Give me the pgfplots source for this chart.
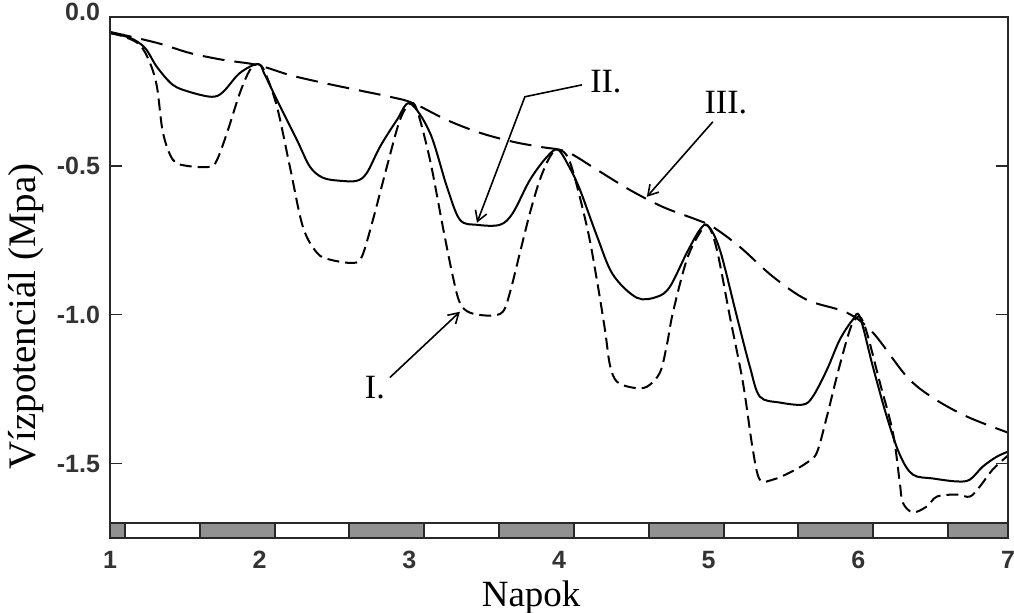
\documentclass[border=0pt]{standalone}
\usepackage{fontspec}
\setmainfont{Liberation Serif}
\newfontfamily\ticksans{Liberation Sans}
\usepackage{pgfplots}
\pgfplotsset{compat=1.18}
\usetikzlibrary{arrows.meta}
\definecolor{stripgray}{RGB}{145,145,145}
\definecolor{framegray}{RGB}{40,40,40}

\begin{document}
\begin{tikzpicture}
\begin{axis}[
  scale only axis, width=449pt, height=260.5pt,
  xmin=1, xmax=7, ymin=-1.75, ymax=0,
  xtick={1,2,3,4,5,6,7}, xticklabels={1,2,3,4,5,6,7},
  ytick={0,-0.5,-1,-1.5},
  yticklabels={\raisebox{5pt}{0.0},-0.5,-1.0,-1.5},
  xtick style={draw=none},
  ytick style={line width=0.7pt, framegray},
  major tick length=6pt, tick align=inside,
  axis line style={line width=1pt, framegray},
  tick label style={font=\ticksans\bfseries\fontsize{12.5}{14}\selectfont, text=black!80},
  xticklabel style={yshift=-3pt},
  yticklabel style={xshift=-1.5pt},
  xlabel={Napok}, ylabel={Vízpotenciál (Mpa)},
  xlabel style={at={(axis description cs:0.469,-0.115)}, anchor=center, font=\fontsize{18.5}{22}\selectfont},
  ylabel style={at={(axis description cs:-0.0935,0.425)}, anchor=center, font=\fontsize{19.5}{23}\selectfont},
  axis on top,
]
% long dashes: III.
\addplot[black, line width=1pt, dash pattern=on 11pt off 5pt, smooth, tension=0.55] coordinates {
(1.0,-0.050)(1.314,-0.087)(1.534,-0.121)(1.755,-0.144)(1.982,-0.161)(2.202,-0.195)
(2.423,-0.221)(2.65,-0.245)(2.87,-0.268)(3.024,-0.289)(3.251,-0.346)(3.472,-0.389)
(3.692,-0.419)(3.872,-0.436)(4.053,-0.453)(4.253,-0.513)(4.474,-0.581)(4.694,-0.638)
(4.921,-0.681)(5.028,-0.705)(5.208,-0.772)(5.429,-0.872)(5.656,-0.950)(5.923,-0.993)
(6.097,-1.060)(6.324,-1.208)(6.498,-1.279)(6.725,-1.342)(7.0,-1.396)};
% solid: II.
\addplot[black, line width=1pt, smooth, tension=0.55] coordinates {
(1.0,-0.054)(1.134,-0.07)(1.234,-0.104)(1.314,-0.168)(1.42,-0.228)(1.534,-0.252)(1.68,-0.268)
(1.755,-0.252)(1.868,-0.188)(1.99,-0.158)
(2.035,-0.195)(2.116,-0.279)(2.249,-0.413)(2.336,-0.503)(2.423,-0.540)(2.536,-0.550)(2.65,-0.550)
(2.717,-0.523)(2.804,-0.436)(2.917,-0.346)(3.004,-0.290)
(3.138,-0.389)(3.251,-0.570)(3.338,-0.681)(3.452,-0.698)(3.605,-0.698)(3.692,-0.658)(3.806,-0.547)
(3.919,-0.470)(3.993,-0.446)
(4.07,-0.505)(4.14,-0.580)(4.253,-0.735)(4.36,-0.865)(4.52,-0.943)(4.654,-0.940)(4.741,-0.906)(4.854,-0.792)
(4.941,-0.715)(4.995,-0.701)
(5.075,-0.782)(5.189,-1.007)(5.275,-1.174)(5.342,-1.275)(5.476,-1.295)(5.629,-1.302)(5.696,-1.275)
(5.79,-1.185)(5.876,-1.084)(5.963,-1.017)(6.01,-1.007)
(6.097,-1.174)(6.19,-1.342)(6.277,-1.470)(6.364,-1.537)(6.498,-1.550)(6.658,-1.560)(6.745,-1.554)
(6.832,-1.510)(6.925,-1.477)(7.0,-1.460)};
% short dashes: I.
\addplot[black, line width=1pt, dash pattern=on 6pt off 3pt, smooth, tension=0.55] coordinates {
(1.0,-0.054)(1.1,-0.067)(1.2,-0.094)(1.267,-0.154)(1.314,-0.235)(1.354,-0.389)(1.421,-0.480)
(1.514,-0.500)(1.668,-0.503)(1.715,-0.480)(1.782,-0.389)(1.868,-0.255)(1.935,-0.178)(1.99,-0.158)
(2.035,-0.185)(2.116,-0.302)(2.202,-0.503)(2.289,-0.705)(2.383,-0.792)(2.47,-0.815)(2.623,-0.826)
(2.683,-0.805)(2.757,-0.681)(2.85,-0.503)(2.937,-0.346)(3.004,-0.292)
(3.051,-0.312)(3.138,-0.480)(3.224,-0.705)(3.291,-0.872)(3.338,-0.960)(3.405,-0.993)(3.538,-1.003)
(3.625,-0.990)(3.672,-0.926)(3.739,-0.792)(3.806,-0.658)(3.872,-0.547)(3.939,-0.470)(3.993,-0.446)
(4.073,-0.487)(4.187,-0.705)(4.253,-0.883)(4.307,-1.050)(4.34,-1.168)(4.387,-1.225)(4.494,-1.245)
(4.587,-1.242)(4.674,-1.195)(4.721,-1.101)(4.761,-0.993)(4.854,-0.815)(4.941,-0.725)(4.995,-0.701)
(5.055,-0.782)(5.142,-1.007)(5.229,-1.228)(5.295,-1.453)(5.342,-1.554)(5.429,-1.554)(5.543,-1.530)
(5.656,-1.497)(5.723,-1.463)(5.79,-1.342)(5.856,-1.208)(5.923,-1.084)(5.963,-1.027)(6.01,-1.007)
(6.057,-1.060)(6.144,-1.228)(6.231,-1.396)(6.277,-1.564)(6.297,-1.631)(6.364,-1.664)(6.458,-1.644)
(6.525,-1.611)(6.658,-1.604)(6.745,-1.611)(6.812,-1.577)(6.898,-1.520)(7.0,-1.473)};
% day/night strip
\addplot[draw=framegray, line width=1pt, fill=white] coordinates {(1,-1.75)(7,-1.75)(7,-1.70)(1,-1.70)} -- cycle;
\addplot[draw=framegray, line width=1pt, fill=stripgray] coordinates {(1,-1.75)(1.1,-1.75)(1.1,-1.70)(1,-1.70)} -- cycle;
\addplot[draw=framegray, line width=1pt, fill=stripgray] coordinates {(1.6,-1.75)(2.1,-1.75)(2.1,-1.70)(1.6,-1.70)} -- cycle;
\addplot[draw=framegray, line width=1pt, fill=stripgray] coordinates {(2.6,-1.75)(3.1,-1.75)(3.1,-1.70)(2.6,-1.70)} -- cycle;
\addplot[draw=framegray, line width=1pt, fill=stripgray] coordinates {(3.6,-1.75)(4.1,-1.75)(4.1,-1.70)(3.6,-1.70)} -- cycle;
\addplot[draw=framegray, line width=1pt, fill=stripgray] coordinates {(4.6,-1.75)(5.1,-1.75)(5.1,-1.70)(4.6,-1.70)} -- cycle;
\addplot[draw=framegray, line width=1pt, fill=stripgray] coordinates {(5.6,-1.75)(6.1,-1.75)(6.1,-1.70)(5.6,-1.70)} -- cycle;
\addplot[draw=framegray, line width=1pt, fill=stripgray] coordinates {(6.6,-1.75)(7,-1.75)(7,-1.70)(6.6,-1.70)} -- cycle;
% annotations
\draw[line width=0.8pt, -{Straight Barb[length=5pt,width=6pt]}] (axis cs:2.87,-1.211) -- (axis cs:3.338,-0.990);
\draw[line width=0.8pt, -{Straight Barb[length=5pt,width=6pt]}] (axis cs:4.153,-0.228) -- (axis cs:3.772,-0.268) -- (axis cs:3.452,-0.691);
\draw[line width=0.8pt, -{Straight Barb[length=5pt,width=6pt]}] (axis cs:5.028,-0.352) -- (axis cs:4.587,-0.604);
\node[font=\fontsize{17}{20}\selectfont] at (axis cs:2.770,-1.245) {I.};
\node[font=\fontsize{17}{20}\selectfont] at (axis cs:4.313,-0.218) {II.};
\node[font=\fontsize{17}{20}\selectfont] at (axis cs:5.115,-0.289) {III.};
\end{axis}
\pgfresetboundingbox
\useasboundingbox (-55pt,-37pt) rectangle (452pt,269pt);
\end{tikzpicture}
\end{document}
